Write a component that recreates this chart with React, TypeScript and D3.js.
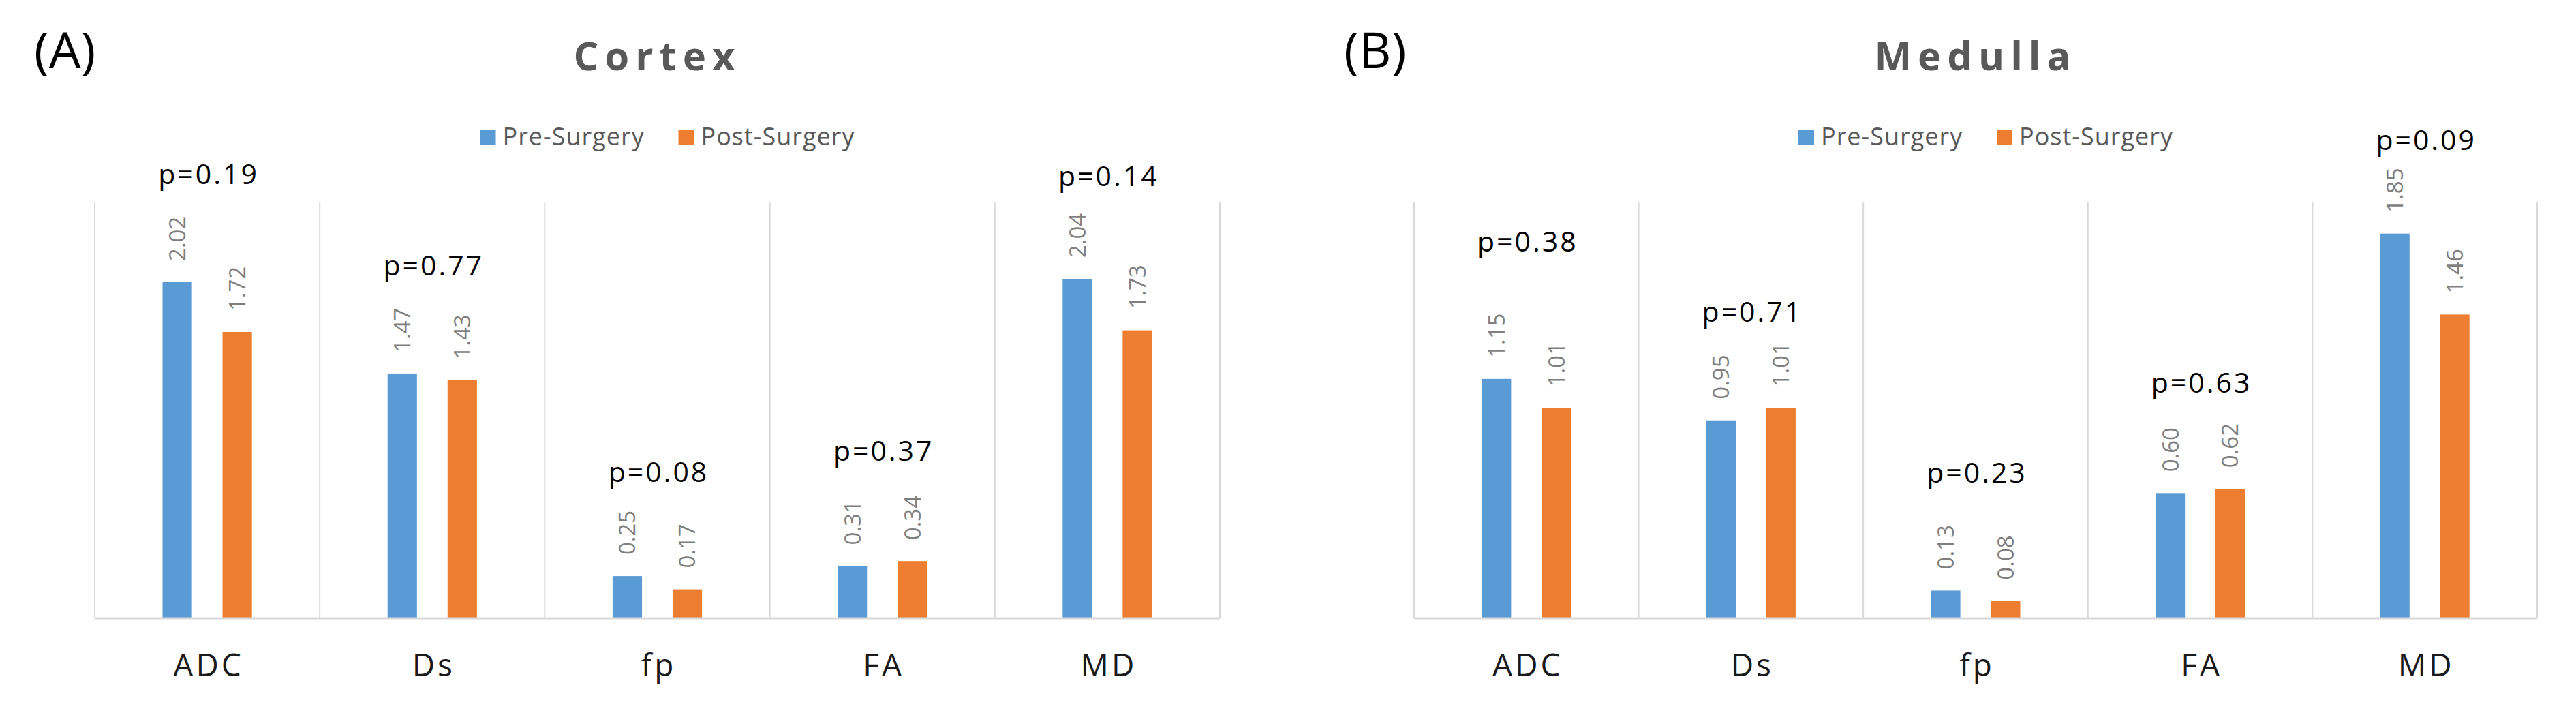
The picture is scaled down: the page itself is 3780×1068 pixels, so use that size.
import React from 'react';
import * as d3 from 'd3';

// chart data
const categories = ['ADC', 'Ds', 'fp', 'FA', 'MD'];
const seriesNames = ['Pre-Surgery', 'Post-Surgery'];

const cortexPre = [2.02, 1.47, 0.25, 0.31, 2.04];
const cortexPost = [1.72, 1.43, 0.17, 0.34, 1.73];
const cortexP = ['p=0.19', 'p=0.77', 'p=0.08', 'p=0.37', 'p=0.14'];
// where each p annotation sits, in value units
const cortexPAnchor = [2.61, 2.06, 0.817, 0.944, 2.6];

const medullaPre = [1.15, 0.95, 0.13, 0.6, 1.85];
const medullaPost = [1.01, 1.01, 0.08, 0.62, 1.46];
const medullaP = ['p=0.38', 'p=0.71', 'p=0.23', 'p=0.63', 'p=0.09'];
const medullaPAnchor = [1.764, 1.425, 0.65, 1.084, 2.253];

const COLORS = ['#5B9BD5', '#ED7D31'];
const GRID = '#D9D9D9';
const FONT = "'Open Sans', 'Liberation Sans', sans-serif";

const PLOT_TOP = 297;
const PLOT_BOTTOM = 906;

interface PanelProps {
  tag: string;
  tagX: number;
  title: string;
  x0: number;
  x1: number;
  yMax: number;
  pre: number[];
  post: number[];
  pLabels: string[];
  pAnchor: number[];
}

const Panel: React.FC<PanelProps> = ({ tag, tagX, title, x0, x1, yMax, pre, post, pLabels, pAnchor }) => {
  const x = d3.scaleBand<string>().domain(categories).range([x0, x1]).paddingInner(0).paddingOuter(0);
  const bw = x.bandwidth();
  const xs = d3.scaleBand<string>().domain(seriesNames).range([0, bw]).paddingInner(0.51).paddingOuter(1.13);
  const y = d3.scaleLinear().domain([0, yMax]).range([PLOT_BOTTOM, PLOT_TOP]);
  const fmt = d3.format('.2f');
  const center = (x0 + x1) / 2;
  const series = [pre, post];

  // gridline positions at band edges
  const edges = categories.map(c => x(c) as number).concat([x1]);

  return (
    <g>
      <text x={tagX} y={100} fontFamily={FONT} fontSize={74} fill="#000">{tag}</text>
      <text x={center} y={103} textAnchor="middle" fontFamily={FONT} fontWeight="bold"
        fontSize={58} letterSpacing={9} fill="#595959">{title}</text>

      {/* legend */}
      {seriesNames.map((s, i) => {
        const lx = center + (i === 0 ? -260 : 31);
        return (
          <g key={s}>
            <rect x={lx} y={191} width={23} height={22} fill={COLORS[i]} />
            <text x={lx + 33} y={213} fontFamily={FONT} fontSize={36} letterSpacing={1} fill="#595959">{s}</text>
          </g>
        );
      })}

      {/* vertical gridlines */}
      {edges.map((ex, i) => (
        <line key={i} x1={ex} x2={ex} y1={PLOT_TOP} y2={PLOT_BOTTOM} stroke={GRID} strokeWidth={2} />
      ))}

      {/* bars and value labels */}
      {series.map((vals, si) => vals.map((v, ci) => {
        const bx = (x(categories[ci]) as number) + (xs(seriesNames[si]) as number);
        const cx = bx + xs.bandwidth() / 2;
        const top = y(v);
        return (
          <g key={`${si}-${ci}`}>
            <rect x={bx} y={top} width={xs.bandwidth()} height={PLOT_BOTTOM - top} fill={COLORS[si]} />
            <text transform={`translate(${cx},${top - 31}) rotate(-90)`} dy="0.36em"
              fontFamily={FONT} fontSize={33} fill="#7F7F7F">{fmt(v)}</text>
          </g>
        );
      }))}

      {/* axis line */}
      <line x1={x0} x2={x1} y1={PLOT_BOTTOM + 1} y2={PLOT_BOTTOM + 1} stroke={GRID} strokeWidth={3} />

      {/* category labels */}
      {categories.map(c => (
        <text key={c} x={(x(c) as number) + bw / 2 + 2} y={992} textAnchor="middle" fontFamily={FONT}
          fontSize={46} letterSpacing={4} fill="#1A1A1A">{c}</text>
      ))}

      {/* p-value annotations */}
      {pLabels.map((p, i) => (
        <text key={p} x={(x(categories[i]) as number) + bw / 2 + 2} y={y(pAnchor[i])} textAnchor="middle"
          fontFamily={FONT} fontSize={41} letterSpacing={3} fill="#000">{p}</text>
      ))}
    </g>
  );
};

const App: React.FC = () => {
  return (
    <svg width={3780} height={1068} style={{ position: 'absolute', left: 0, top: 0, background: '#fff' }}>
      <rect width={3780} height={1068} fill="#fff" />
      <Panel tag="(A)" tagX={50} title="Cortex" x0={139} x1={1790} yMax={2.5}
        pre={cortexPre} post={cortexPost} pLabels={cortexP} pAnchor={cortexPAnchor} />
      <Panel tag="(B)" tagX={1972} title="Medulla" x0={2075} x1={3723} yMax={2.0}
        pre={medullaPre} post={medullaPost} pLabels={medullaP} pAnchor={medullaPAnchor} />
    </svg>
  );
};

export default App;
